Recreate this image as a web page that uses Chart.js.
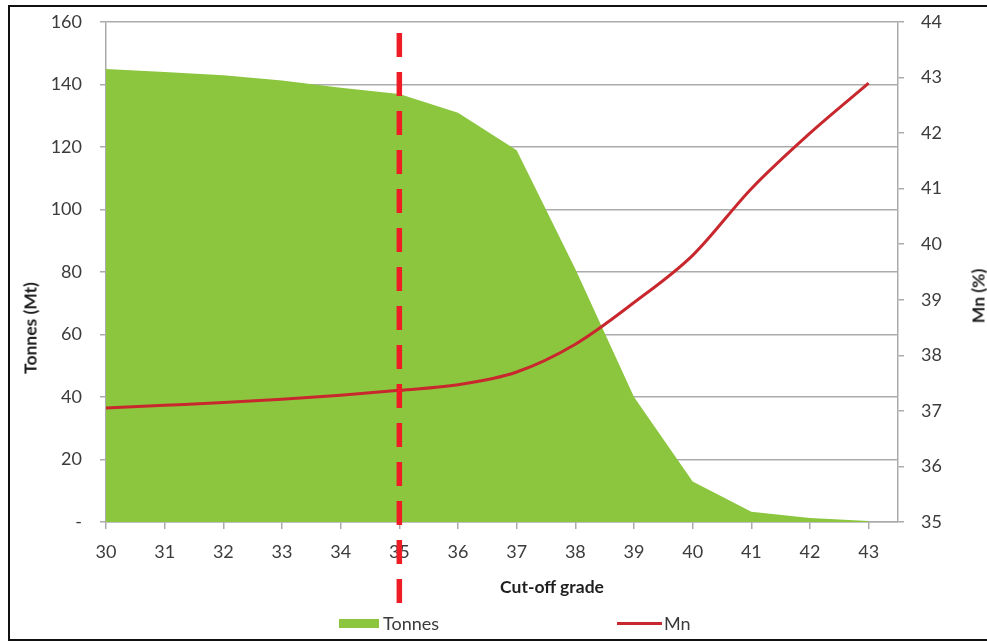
<!DOCTYPE html>
<html>
<head>
<meta charset="utf-8">
<script src="https://cdn.jsdelivr.net/npm/chart.js@4.4.1/dist/chart.umd.min.js"></script>
<style>
  html, body { margin: 0; padding: 0; background: #ffffff; }
  body { width: 987px; height: 641px; position: relative; overflow: hidden; font-family: Lato, "Open Sans", sans-serif; }
  #frame { position: absolute; left: 8px; top: 5px; width: 990px; height: 632px; border: 2px solid #111; box-sizing: content-box; }
  #wrap { position: absolute; left: 0; top: 0; width: 987px; height: 641px; }
  .title { position: absolute; font-weight: bold; font-size: 17.5px; color: #1e1e1e; white-space: nowrap; }
  .rot { transform: translate(-50%, -50%) rotate(-90deg); }
  #legend { position: absolute; top: 612px; left: 0; width: 987px; height: 22px; font-size: 18px; color: #3a3a3a; }
  .li { position: absolute; top: 0; display: flex; align-items: center; height: 22px; }
  .sw-area { width: 40px; height: 9px; background: #8cc63f; margin-right: 4px; }
  .sw-line { width: 45px; height: 3px; background: #c8282d; margin-right: 2px; }
</style>
</head>
<body>
<div id="frame"></div>
<div id="wrap"><canvas id="c" width="987" height="641"></canvas></div>
<div class="title rot" style="left:30px; top:328px;">Tonnes (Mt)</div>
<div class="title rot" style="left:978px; top:296px;">Mn (%)</div>
<div class="title" style="left:552px; top:586px; transform: translate(-50%, -50%);">Cut-off grade</div>
<div id="legend">
  <div class="li" style="left:339px;"><div class="sw-area"></div><span>Tonnes</span></div>
  <div class="li" style="left:617px;"><div class="sw-line"></div><span>Mn</span></div>
</div>
<script>
// ---- data ----
const cutoffGrades = [30, 31, 32, 33, 34, 35, 36, 37, 38, 39, 40, 41, 42, 43];
const tonnesMt     = [145, 144, 143, 141.3, 139, 137, 131, 119, 81, 40, 13, 3.3, 1.3, 0.3];
const mnPercent    = [37.05, 37.1, 37.15, 37.21, 37.28, 37.37, 37.47, 37.7, 38.2, 38.95, 39.8, 41.0, 42.0, 42.9];
const leftTicks    = [0, 20, 40, 60, 80, 100, 120, 140, 160];
const rightTicks   = [35, 36, 37, 38, 39, 40, 41, 42, 43, 44];
const selectedCutoff = 35;

const tickColor = '#3c3c3c';
const gridColor = '#ababab';
const tickFont = { family: 'Lato', size: 18 };

const cutoffLine = {
  id: 'cutoffLine',
  afterDraw(chart) {
    const ctx = chart.ctx;
    // right-axis tick labels
    const y1 = chart.scales.y1;
    ctx.save();
    ctx.fillStyle = tickColor;
    ctx.font = '18px Lato';
    ctx.textAlign = 'left';
    ctx.textBaseline = 'middle';
    rightTicks.forEach(v => ctx.fillText(String(v), y1.left + 23, y1.getPixelForValue(v)));
    ctx.restore();
    // cut-off dashed line
    const x = chart.scales.x.getPixelForValue(selectedCutoff);
    ctx.save();
    ctx.strokeStyle = '#ee1c24';
    ctx.lineWidth = 5.5;
    ctx.setLineDash([24, 15]);
    ctx.beginPath();
    ctx.moveTo(x, 33);
    ctx.lineTo(x, 604);
    ctx.stroke();
    ctx.restore();
  }
};

function noPad(s) { s.paddingTop = 0; s.paddingBottom = 0; }

new Chart(document.getElementById('c'), {
  type: 'line',
  data: {
    datasets: [
      {
        label: 'Mn',
        data: cutoffGrades.map((g, i) => ({ x: g, y: mnPercent[i] })),
        yAxisID: 'y1',
        borderColor: '#c8282d',
        borderWidth: 3,
        pointRadius: 0,
        fill: false,
        cubicInterpolationMode: 'monotone',
        order: 0
      },
      {
        label: 'Tonnes',
        data: cutoffGrades.map((g, i) => ({ x: g, y: tonnesMt[i] })),
        yAxisID: 'y',
        borderWidth: 0,
        borderColor: 'rgba(0,0,0,0)',
        backgroundColor: '#8cc63f',
        pointRadius: 0,
        fill: 'origin',
        tension: 0,
        order: 1
      }
    ]
  },
  options: {
    responsive: false,
    animation: false,
    devicePixelRatio: 1,
    layout: { padding: { top: 22, left: 0, right: 0, bottom: 0 } },
    plugins: { legend: { display: false }, tooltip: { enabled: false } },
    scales: {
      x: {
        type: 'linear',
        min: 30,
        max: 43.5,
        afterFit(s) { s.height = 641 - 522; s.paddingLeft = 0; s.paddingRight = 0; },
        afterBuildTicks(s) { s.ticks = cutoffGrades.map(v => ({ value: v })); },
        ticks: { color: tickColor, font: tickFont, padding: 12, maxRotation: 0, autoSkip: false },
        grid: { drawOnChartArea: false, tickLength: 7, color: gridColor, lineWidth: 1.5 },
        border: { color: gridColor, width: 1.5 }
      },
      y: {
        position: 'left',
        min: 0,
        max: 160,
        afterFit(s) { s.width = 106; noPad(s); },
        afterBuildTicks(s) { s.ticks = leftTicks.map(v => ({ value: v })); },
        ticks: {
          color: tickColor, font: tickFont, padding: 18,
          callback: v => v === 0 ? '-' : String(v)
        },
        grid: { color: gridColor, lineWidth: 1.5, tickLength: 6 },
        border: { color: gridColor, width: 1.5 }
      },
      y1: {
        position: 'right',
        min: 35,
        max: 44,
        afterFit(s) { s.width = 987 - 898; noPad(s); },
        afterBuildTicks(s) { s.ticks = rightTicks.map(v => ({ value: v })); },
        ticks: { display: false },
        grid: { drawOnChartArea: false, color: gridColor, lineWidth: 1.5, tickLength: 6, drawTicks: true },
        border: { color: gridColor, width: 1.5 }
      }
    }
  },
  plugins: [cutoffLine]
});
</script>
</body>
</html>
